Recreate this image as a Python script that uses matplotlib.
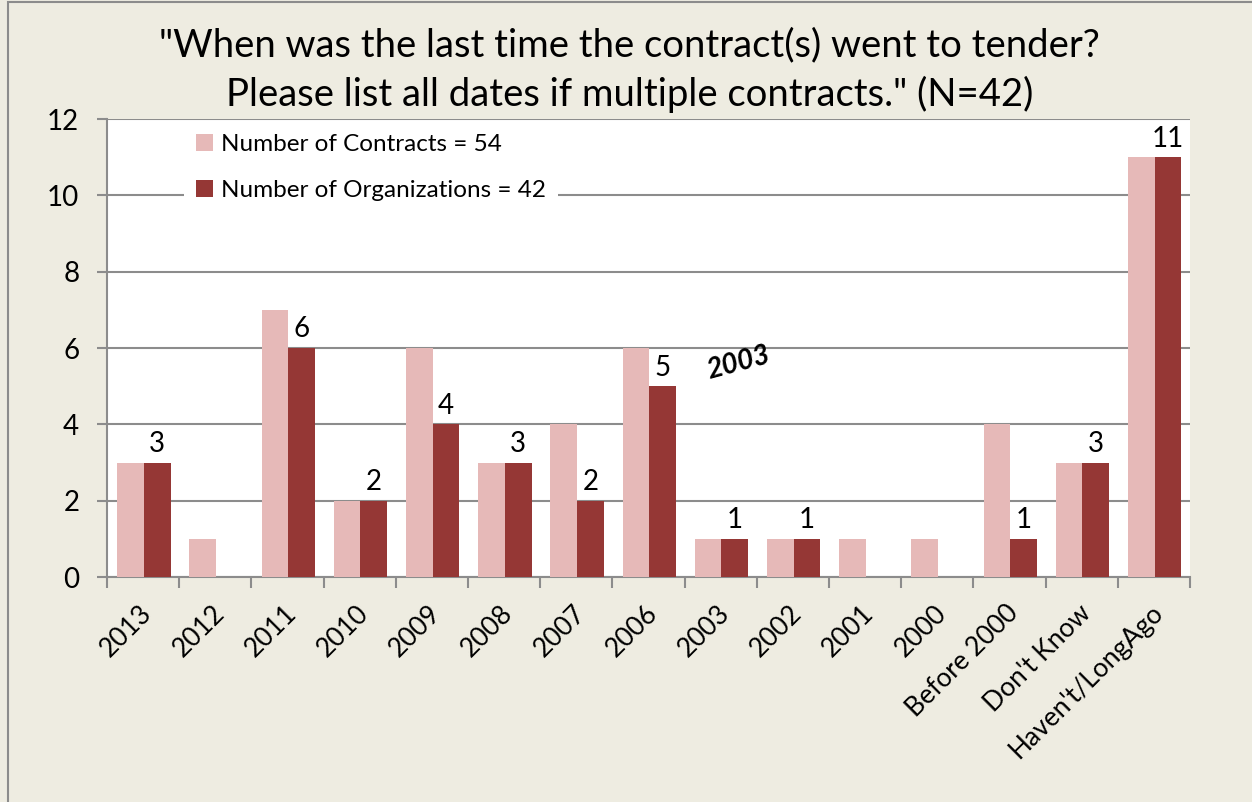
import matplotlib.pyplot as plt
import matplotlib.patches as mpatches
import matplotlib.transforms as mtransforms
import numpy as np
import matplotlib
matplotlib.rcParams["font.family"] = ["Lato", "DejaVu Sans"]

# chart data
categories = ["2013", "2012", "2011", "2010", "2009", "2008", "2007", "2006",
              "2003", "2002", "2001", "2000", "Before 2000", "Don't Know",
              "Haven't/LongAgo"]
contracts = [3, 1, 7, 2, 6, 3, 4, 6, 1, 1, 1, 1, 4, 3, 11]
organizations = [3, 0, 6, 2, 4, 3, 2, 5, 1, 1, 0, 0, 1, 3, 11]
yticks = [0, 2, 4, 6, 8, 10, 12]

bg = "#EEECE1"
pink = "#E6B9B8"
dark = "#953735"
grid = "#8C8C8C"

fig = plt.figure(figsize=(12.52, 8.02), dpi=100, facecolor=bg)
fig.patches.append(mpatches.Rectangle((0.006, -0.01), 1.1, 1.008, transform=fig.transFigure,
                                      fill=False, edgecolor="#8C8C8C", lw=1.5))
ax = fig.add_axes([0.0855, 0.2805, 0.865, 0.571])
ax.set_facecolor("white")

x = np.arange(len(categories))
w = 0.37
ax.bar(x - w / 2 + 0.01, contracts, w, color=pink, label="Number of Contracts = 54", zorder=3)
ax.bar(x + w / 2 + 0.01, organizations, w, color=dark, label="Number of Organizations = 42", zorder=3)

# data labels only on the organisations series
for xi, v in zip(x, organizations):
    if v > 0:
        ax.text(xi + w / 2 + 0.01, v + 0.15, str(v), ha="center", va="bottom", fontsize=20, zorder=4)

ax.set_xlim(-0.5, len(categories) - 0.5)
ax.set_ylim(0, 12)
ax.set_yticks(yticks)
ax.tick_params(axis="y", labelsize=20, length=7, width=1.5, color=grid, pad=13)
ax.yaxis.grid(True, color=grid, lw=1.5, zorder=0)

ax.set_xticks(x)
ax.set_xticklabels(categories, rotation=45, ha="right", va="center",
                   rotation_mode="anchor", fontsize=19)
ax.tick_params(axis="x", which="major", length=0, pad=23)
shift = mtransforms.ScaledTranslation(5 / 100, 0, fig.dpi_scale_trans)
for lab in ax.get_xticklabels():
    lab.set_transform(lab.get_transform() + shift)
ax.set_xticks(np.arange(-0.5, len(categories)), minor=True)
ax.tick_params(axis="x", which="minor", length=8, width=1.5, color=grid)

for s in ["top", "right"]:
    ax.spines[s].set_visible(False)
for s in ["left", "bottom"]:
    ax.spines[s].set_color(grid)
    ax.spines[s].set_linewidth(1.5)

leg = ax.legend(loc="upper left", bbox_to_anchor=(0.06, 1.02), fontsize=17.5,
                frameon=True, facecolor="white", edgecolor="white", framealpha=1,
                handlelength=0.7, handleheight=0.7, handletextpad=0.3,
                labelspacing=1.0, borderpad=0.5)
leg.get_frame().set_linewidth(0)
leg.set_zorder(5)

# stray label sitting in the chart
ax.text(8.25, 5.6, "2003", fontsize=20, fontweight="bold", fontstyle="italic",
        rotation=15, ha="center", va="center", zorder=4)

fig.text(0.503, 0.912, "\"When was the last time the contract(s) went to tender?\n"
         "Please list all dates if multiple contracts.\" (N=42)",
         ha="center", va="center", fontsize=27.5, linespacing=1.42)

fig.savefig("out.png", dpi=100, facecolor=bg)
